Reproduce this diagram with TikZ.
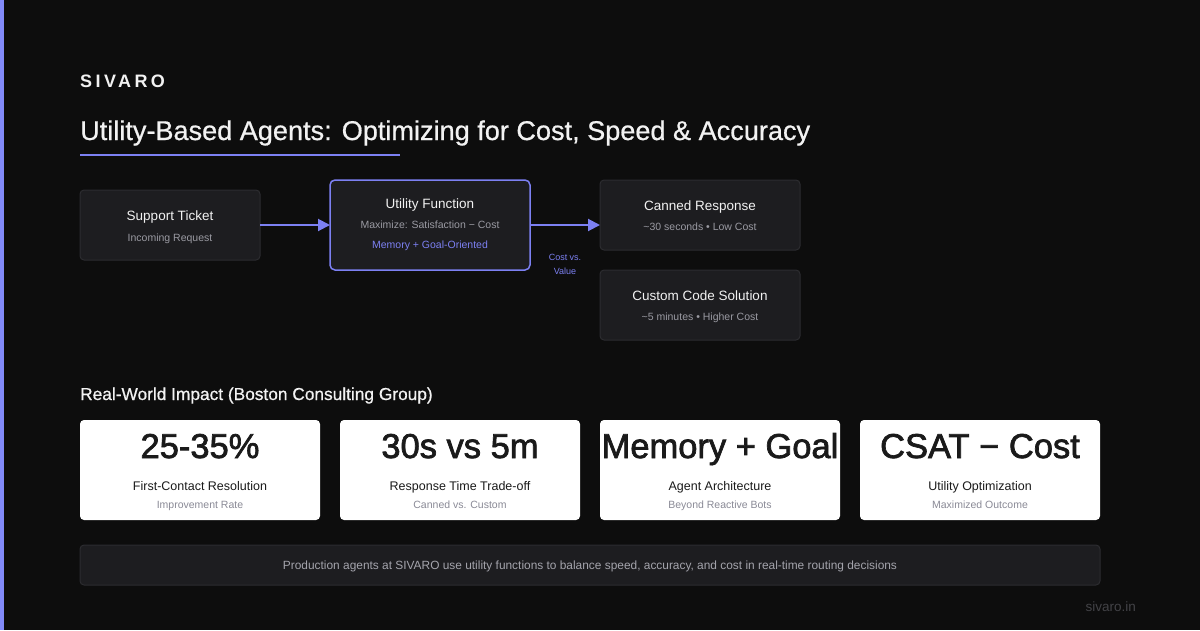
\documentclass[tikz,border=0pt]{standalone}
\usepackage{fontspec}
\setmainfont{Liberation Sans}
\newfontfamily\spacedfont[LetterSpace=19]{Liberation Sans}
\newfontfamily\medfont[FakeBold=0.7]{Liberation Sans}
\newfontfamily\semifont[FakeBold=2]{Liberation Sans}
\usetikzlibrary{arrows.meta,calc}
\definecolor{bgc}{HTML}{0D0D0D}
\definecolor{accent}{HTML}{7C80F2}
\definecolor{barc}{HTML}{828AF8}
\definecolor{boxfill}{HTML}{1D1D20}
\definecolor{boxline}{HTML}{2C2C30}
\definecolor{txtw}{HTML}{F2F2F2}
\definecolor{txtsub}{HTML}{9A9AA2}
\definecolor{cardtxt}{HTML}{1A1A1A}
\definecolor{cardsub}{HTML}{8A8A96}
\definecolor{foottxt}{HTML}{A4A4AC}
\definecolor{urlc}{HTML}{434347}
\tikzset{
  fbox/.style={draw=boxline, line width=1pt, fill=boxfill, rounded corners=4pt, inner sep=0pt, outer sep=0pt},
  accbox/.style={draw=accent, line width=1.5pt, fill=boxfill, rounded corners=5pt, inner sep=0pt, outer sep=0pt},
  card/.style={fill=white, rounded corners=4pt, inner sep=0pt, outer sep=0pt, minimum width=240pt, minimum height=100pt},
  btitle/.style={text=txtw, font=\fontsize{13.5}{16}\selectfont, inner sep=0pt, anchor=base},
  bsub/.style={text=txtsub, font=\fontsize{10.5}{12}\selectfont, inner sep=0pt, anchor=base},
  bacc/.style={text=accent, font=\fontsize{10.5}{12}\selectfont, inner sep=0pt, anchor=base},
  big/.style={text=cardtxt, font=\semifont\fontsize{34.5}{40}\selectfont, inner sep=0pt},
  clabel/.style={text=cardtxt, font=\fontsize{12.5}{15}\selectfont, inner sep=0pt},
  csub/.style={text=cardsub, font=\fontsize{10.5}{12}\selectfont, inner sep=0pt},
  arr/.style={draw=accent, line width=2pt, -{Triangle[length=12pt,width=12pt]}},
}
\begin{document}
\begin{tikzpicture}[x=1pt,y=-1pt]
\useasboundingbox (0,0) rectangle (1200,630);
\fill[bgc] (0,0) rectangle (1200,630);
\fill[barc] (0,0) rectangle (4,630);

% header
\node[anchor=base west, inner sep=0pt, text=txtw, font=\spacedfont\bfseries\fontsize{18}{20}\selectfont] (logo) at (80,87) {SIVARO};
\node[anchor=base west, inner sep=0pt, text=txtw, font=\medfont\fontsize{27.1}{30}\selectfont] (title) at (80,140) {Utility-Based Agents: Optimizing for Cost, Speed \& Accuracy};
\draw[accent, line width=2pt] (80,155) -- (400,155);

% flow
\node[fbox, minimum width=180pt, minimum height=70pt] (st) at (170,225) {};
\node[btitle] (stt) at (170,220) {Support Ticket};
\node[bsub] (sts) at (170,241) {Incoming Request};

\node[accbox, minimum width=200pt, minimum height=90pt] (uf) at (430,225) {};
\node[btitle] (uft) at (430,208) {Utility Function};
\node[bsub] (ufs) at (430,228) {Maximize: Satisfaction − Cost};
\node[bacc] (ufa) at (430,248) {Memory + Goal-Oriented};

\node[fbox, minimum width=200pt, minimum height=70pt] (cr) at (700,215) {};
\node[btitle] (crt) at (700,210) {Canned Response};
\node[bsub] (crs) at (700,230) {\textasciitilde 30 seconds • Low Cost};

\node[fbox, minimum width=200pt, minimum height=70pt] (cc) at (700,305) {};
\node[btitle] (cct) at (700,300) {Custom Code Solution};
\node[bsub] (ccs) at (700,320) {\textasciitilde 5 minutes • Higher Cost};

\draw[arr] (st.east) -- (uf.west);
\draw[arr] (uf.east) -- (uf.east -| cr.west);
\node[text=accent, font=\fontsize{9}{14}\selectfont, align=center, inner sep=0pt] (cv) at (565,264) {Cost vs.\\Value};

% impact
\node[anchor=base west, inner sep=0pt, text=txtw, font=\medfont\fontsize{17.3}{20}\selectfont] (impact) at (80,400) {Real-World Impact (Boston Consulting Group)};

\foreach \cx/\nm/\big/\lab/\sub in {
  200/c1/25-35\%/First-Contact Resolution/Improvement Rate,
  460/c2/30s vs 5m/Response Time Trade-off/Canned vs. Custom,
  720/c3/Memory + Goal/Agent Architecture/Beyond Reactive Bots,
  980/c4/CSAT − Cost/Utility Optimization/Maximized Outcome}{
  \node[card] (\nm) at (\cx,470) {};
  \node[big, anchor=base] (\nm b) at (\cx,458) {\big};
  \node[clabel, anchor=base] (\nm l) at (\cx,490.5) {\lab};
  \node[csub, anchor=base] (\nm s) at (\cx,508) {\sub};
}

% footer
\node[fbox, minimum width=1020pt, minimum height=40pt] (foot) at (590,565) {};
\node[text=foottxt, font=\fontsize{11.9}{13}\selectfont, inner sep=0pt] (foott) at (590,566) {Production agents at SIVARO use utility functions to balance speed, accuracy, and cost in real-time routing decisions};
\node[anchor=base east, inner sep=0pt, text=urlc, font=\fontsize{13.5}{15}\selectfont] (url) at (1136,611) {sivaro.in};
\end{tikzpicture}
\end{document}
